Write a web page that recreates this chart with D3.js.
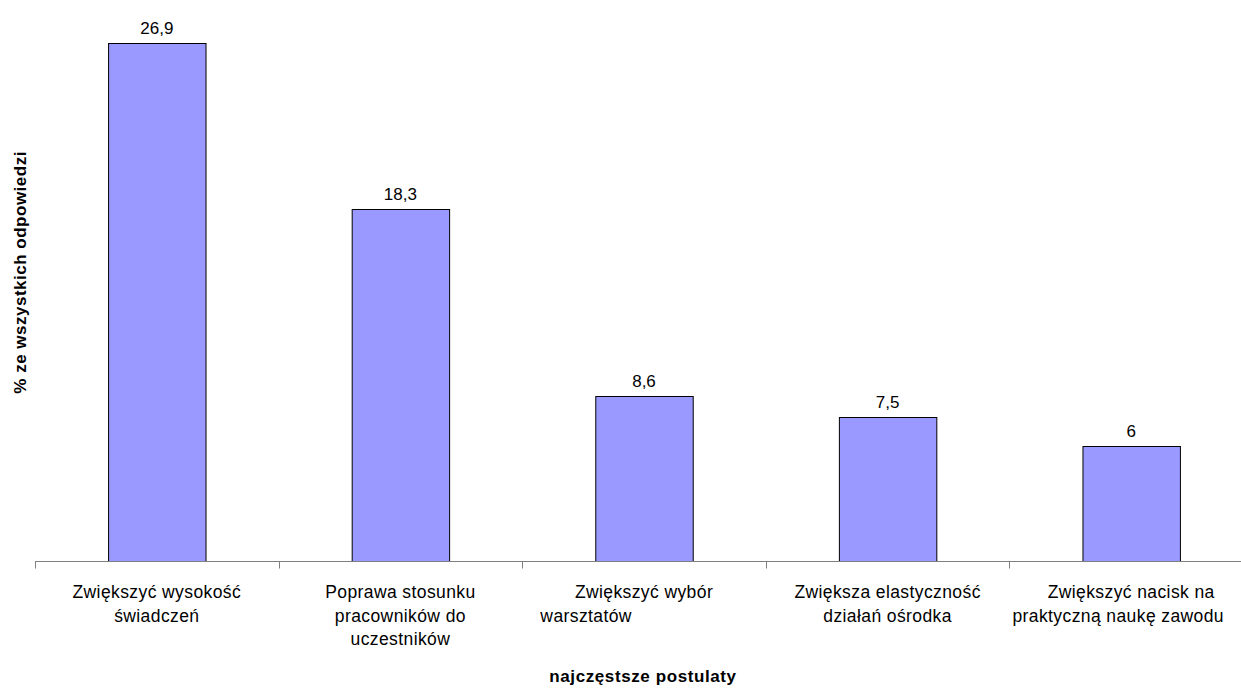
<!DOCTYPE html>
<html>
<head>
<meta charset="utf-8">
<script src="https://cdn.jsdelivr.net/npm/d3@7"></script>
<style>
  html, body { margin: 0; padding: 0; background: #fff; }
  svg { display: block; }
  text { font-family: Arial, "Liberation Sans", sans-serif; }
</style>
</head>
<body>
<svg id="chart" width="1241" height="689"></svg>
<script>
const categories = [
  ["Zwiększyć wysokość", "świadczeń"],
  ["Poprawa stosunku", "pracowników do", "uczestników"],
  ["Zwiększyć wybór", "warsztatów\u00a0\u00a0\u00a0\u00a0\u00a0\u00a0\u00a0\u00a0\u00a0\u00a0\u00a0\u00a0\u00a0\u00a0\u00a0\u00a0\u00a0\u00a0\u00a0\u00a0\u00a0\u00a0"],
  ["Zwiększa elastyczność", "działań ośrodka"],
  ["Zwiększyć nacisk na", "praktyczną naukę zawodu"]
];
const values = [26.9, 18.3, 8.6, 7.5, 6];
const valueLabels = ["26,9", "18,3", "8,6", "7,5", "6"];
const xTitle = "najczęstsze postulaty";
const yTitle = "% ze wszystkich odpowiedzi";

const svg = d3.select("#chart");
const W = 1241, H = 689;
const left = 35, step = 243.6, baseY = 561.5;

const x = d3.scaleBand()
  .domain(d3.range(values.length))
  .range([left, left + step * values.length])
  .padding(0);

const y = d3.scaleLinear()
  .domain([0, 26.9])
  .range([baseY, 43]);

const barW = x.bandwidth() * 0.4;

// bars
svg.append("g").selectAll("rect")
  .data(values)
  .join("rect")
  .attr("x", (d, i) => x(i) + x.bandwidth() / 2 - barW / 2 + 0.5)
  .attr("y", d => Math.round(y(d)) + 0.5)
  .attr("width", barW)
  .attr("height", d => baseY - Math.round(y(d)) - 0.5)
  .attr("fill", "#9999ff")
  .attr("stroke", "#000")
  .attr("stroke-width", 1);

// value labels
svg.append("g").selectAll("text")
  .data(values)
  .join("text")
  .attr("x", (d, i) => x(i) + x.bandwidth() / 2)
  .attr("y", d => y(d) - 9)
  .attr("text-anchor", "middle")
  .attr("font-size", 17)
  .attr("fill", "#000")
  .text((d, i) => valueLabels[i]);

// x axis line and ticks at band edges
const axisG = svg.append("g");
axisG.append("line")
  .attr("x1", x.range()[0]).attr("x2", x.range()[1])
  .attr("y1", baseY).attr("y2", baseY)
  .attr("stroke", "#808080").attr("stroke-width", 1);
const edges = d3.range(values.length + 1).map(i => left + i * x.step());
axisG.selectAll("line.tick")
  .data(edges)
  .join("line")
  .attr("class", "tick")
  .attr("x1", d => Math.round(d) + 0.5).attr("x2", d => Math.round(d) + 0.5)
  .attr("y1", baseY).attr("y2", baseY + 7)
  .attr("stroke", "#808080").attr("stroke-width", 1);

// category labels
const lab = svg.append("g").selectAll("text")
  .data(categories)
  .join("text")
  .attr("text-anchor", "middle")
  .attr("font-size", 17.5)
  .attr("letter-spacing", 0.4)
  .attr("fill", "#000")
  .style("white-space", "pre");
lab.each(function(lines, i) {
  const t = d3.select(this);
  lines.forEach((ln, k) => {
    const cx = x(i) + x.bandwidth() / 2;
    const sp = t.append("tspan")
      .attr("x", cx)
      .attr("y", 598 + k * 23.5)
      .text(ln);
    // keep each line inside the picture
    const len = sp.node().getComputedTextLength();
    const maxRight = W - 17;
    if (cx + len / 2 > maxRight) sp.attr("x", maxRight - len / 2);
  });
});

// axis titles
svg.append("text")
  .attr("x", left + x.step() * values.length / 2 - 1)
  .attr("y", 682)
  .attr("text-anchor", "middle")
  .attr("font-size", 17)
  .attr("letter-spacing", 0.6)
  .attr("font-weight", "bold")
  .text(xTitle);

svg.append("text")
  .attr("transform", `translate(26, ${y(15.0)}) rotate(-90)`)
  .attr("text-anchor", "middle")
  .attr("font-size", 17)
  .attr("letter-spacing", 0.5)
  .attr("font-weight", "bold")
  .text(yTitle);
</script>
</body>
</html>
